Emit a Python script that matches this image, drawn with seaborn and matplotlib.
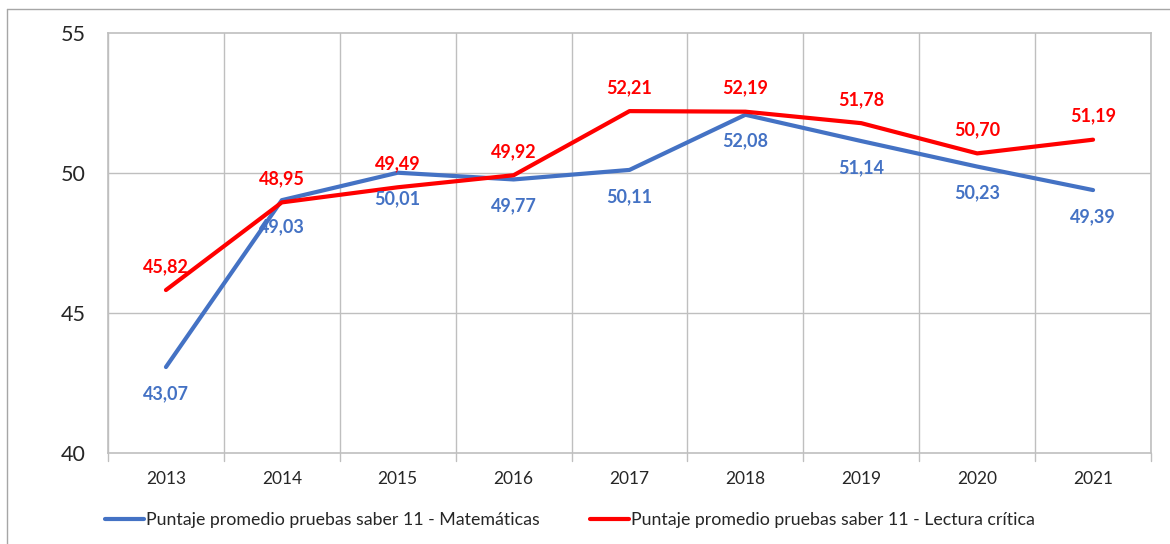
import matplotlib
matplotlib.use("Agg")
import matplotlib.pyplot as plt
from matplotlib.lines import Line2D
import numpy as np
import pandas as pd
import seaborn as sns

years = ["2013", "2014", "2015", "2016", "2017", "2018", "2019", "2020", "2021"]
matematicas = [43.07, 49.03, 50.01, 49.77, 50.11, 52.08, 51.14, 50.23, 49.39]
lectura = [45.82, 48.95, 49.49, 49.92, 52.21, 52.19, 51.78, 50.70, 51.19]
series_names = ["Puntaje promedio pruebas saber 11 - Matemáticas",
                "Puntaje promedio pruebas saber 11 - Lectura crítica"]
colors = ["#4472C4", "#FF0000"]

df = pd.DataFrame({
    "pos": list(range(len(years))) * 2,
    "valor": matematicas + lectura,
    "serie": [series_names[0]] * len(years) + [series_names[1]] * len(years),
})

sns.set_style("white")
plt.rcParams["font.family"] = ["Lato", "DejaVu Sans"]

fig = plt.figure(figsize=(11.7, 5.44), dpi=100)
ax = fig.add_axes([108 / 1170, 1 - 453 / 544, (1151 - 108) / 1170, (453 - 33) / 544])

sns.lineplot(data=df, x="pos", y="valor", hue="serie", palette=dict(zip(series_names, colors)),
             linewidth=3, ax=ax, legend=False, zorder=3)

ax.set_xlim(-0.5, len(years) - 0.5)
ax.set_ylim(40, 55)
ax.set_yticks([40, 45, 50, 55])
ax.set_xticks(range(len(years)))
ax.set_xticklabels(years)
ax.set_xlabel("")
ax.set_ylabel("")

# grid lines at category boundaries (Excel-style)
for b in np.arange(-0.5, len(years), 1.0):
    ax.axvline(b, color="#BFBFBF", lw=1, zorder=1)
for yv in [45, 50]:
    ax.axhline(yv, color="#BFBFBF", lw=1, zorder=1)
for sp in ax.spines.values():
    sp.set_color("#BFBFBF")
    sp.set_linewidth(1.2)

ax.tick_params(axis="y", length=0, pad=16, labelsize=15.5)
ax.tick_params(axis="x", length=0, pad=13, labelsize=12.5)
# small tick marks below axis at boundaries
for b in np.arange(-0.5, len(years), 1.0):
    ax.plot([b, b], [0, -0.02], transform=ax.get_xaxis_transform(), color="#BFBFBF",
            lw=1, clip_on=False)

# data labels
for i, (m, l) in enumerate(zip(matematicas, lectura)):
    ax.annotate(f"{m:.2f}".replace(".", ","), (i, m), xytext=(0, -19), textcoords="offset points",
                ha="center", va="center", color=colors[0], fontsize=13, fontweight="bold")
    ax.annotate(f"{l:.2f}".replace(".", ","), (i, l), xytext=(0, 17), textcoords="offset points",
                ha="center", va="center", color=colors[1], fontsize=13, fontweight="bold")

handles = [Line2D([], [], color=c, lw=3) for c in colors]
fig.legend(handles, series_names, loc="center", bbox_to_anchor=(0.487, 0.044), ncol=2,
           frameon=False, fontsize=12.8, handlelength=2.2, handletextpad=0.1, columnspacing=2.8)

# outer chart border
fig.add_artist(Line2D([7 / 1170, 1], [1 - 9 / 544, 1 - 9 / 544], transform=fig.transFigure,
                      color="#A6A6A6", lw=1))
fig.add_artist(Line2D([7 / 1170, 7 / 1170], [0, 1 - 9 / 544], transform=fig.transFigure,
                      color="#A6A6A6", lw=1))

fig.savefig("out.png", dpi=100)
